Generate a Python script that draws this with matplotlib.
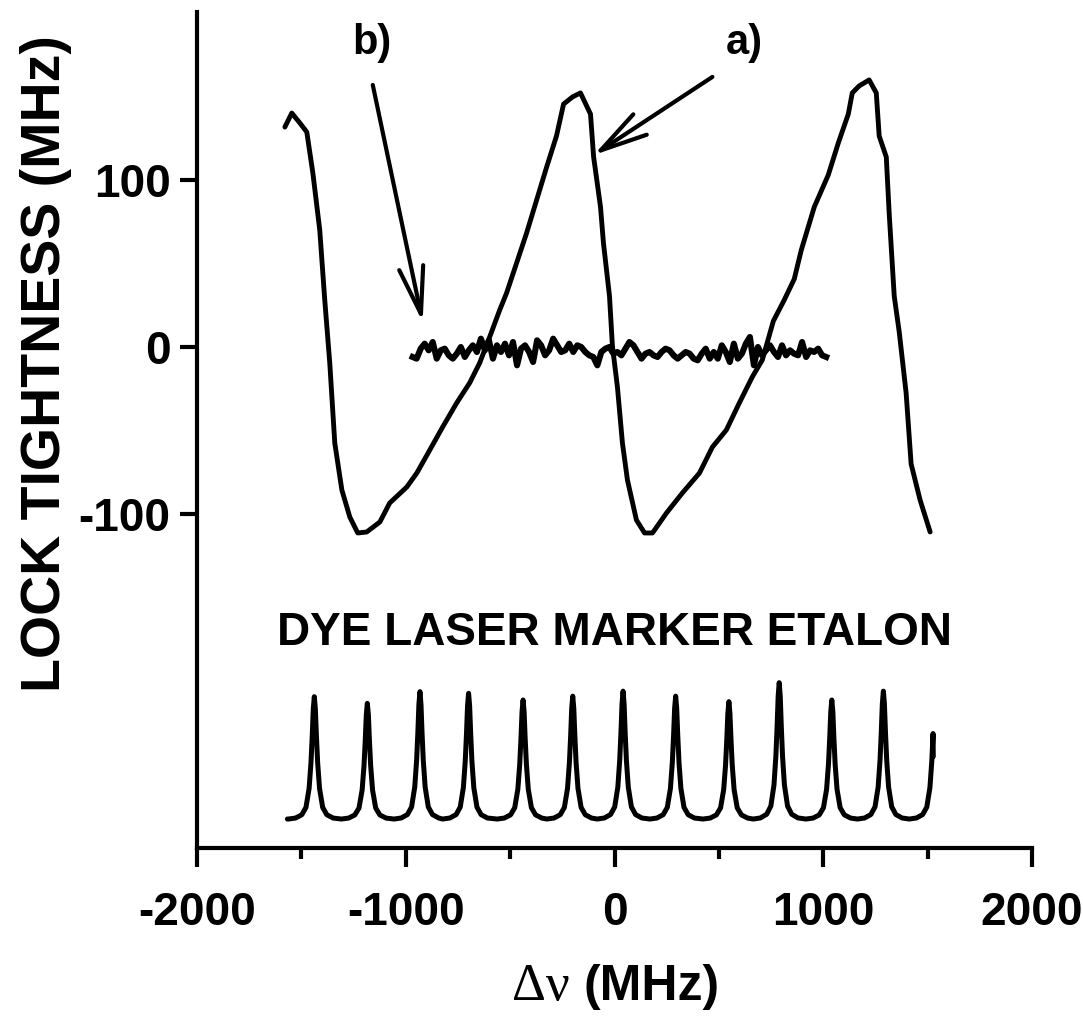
import numpy as np
import matplotlib
matplotlib.use("Agg")
import matplotlib.pyplot as plt
from matplotlib.ticker import MultipleLocator

# ---------------- data ----------------
# a) lock-tightness error signal (MHz vs MHz)
A_X = [-1579, -1546, -1507, -1474, -1445, -1412, -1388, -1364, -1340, -1306,
       -1268, -1230, -1187, -1124, -1077, -995, -947, -885, -823, -756,
       -694, -646, -598, -550, -517, -421, -325, -278, -244, -201,
       -163, -115, -100, -67, -53, -24, -10, 14, 38, 62,
       105, 144, 182, 249, 325, 407, 469, 536, 598, 660,
       708, 761, 813, 861, 895, 957, 1024, 1072, 1120, 1139,
       1172, 1220, 1254, 1268, 1302, 1316, 1340, 1364, 1397, 1421,
       1464, 1512]
A_Y = [132.1, 140.5, 134.5, 129.1, 104.5, 70.3, 28.2, -9.6, -57.7, -85.9,
       -102.1, -111.7, -111.1, -105.1, -93.7, -84.1, -75.7, -61.9, -48.0, -33.6,
       -21.6, -9.6, 6.0, 22.2, 32.4, 68.5, 108.1, 126.7, 145.9, 150.2,
       152.6, 139.9, 114.1, 84.1, 62.5, 30.6, 0.6, -24.0, -57.7, -79.9,
       -103.9, -111.7, -111.7, -99.7, -87.7, -75.7, -60.1, -49.8, -33.6, -18.0,
       -7.8, 15.6, 28.2, 40.8, 58.3, 84.1, 103.3, 122.5, 139.9, 152.6,
       156.8, 160.4, 152.6, 126.7, 114.1, 79.9, 30.6, 9.0, -27.6, -70.3,
       -91.9, -111.1]

# b) locked signal: noise samples, evenly spaced from B_START to B_END
B_START, B_END = -967, 1014
B_Y = [-6, -7, -1, 2, -2, 3, -7, -2, -1, -5, -7, -4, 0, -6, -2, 1, -3, 5, -2, 4,
       -7, 1, -3, 2, -5, 3, -11, -1, 1, -3, -9, 4, 1, -5, -2, 5, 1, -3, -2, 2,
       -3, 1, 0, -3, -5, -6, -11, -3, -1, 0, -4,
       -3, -5, -1, 3, 1, -3, -7, -4, -3, -5, -6, -3, -1, -2, -5, -7, -5, -3, -4, -7,
       -8, -4, -1, -7, -3, -7, 1, -3, -9, 2, -7, -4, 2, 6, -11, 0, -5, -2, 1, -3,
       -6, 1, -5, -2, -4, -5, 3, -6, -2, -3, -1, -5, -6]

# dye laser marker etalon: peak centres / peak tops (plotted in same axis units)
ETA_CENTERS = [-1438, -1184, -932, -699, -438, -200, 41, 293, 548, 789, 1041, 1288, 1536]
ETA_PEAKS = [-210, -214, -207, -208, -212, -209.7, -206.7, -209.7, -213, -201.6, -212, -206.7, -208]
ETA_BASE = -283.5
ETA_START, ETA_END = -1567, 1527
ETA_END_Y = -246
# line profile: offset (MHz) -> fraction of peak height above the valley
PROFILE_OFF = [-124, -90, -60, -40, -25, -16, -10, -5, 0, 5, 10, 16, 25, 40, 60, 90]
PROFILE_FRAC = [0.0, 0.008, 0.035, 0.095, 0.25, 0.46, 0.68, 0.90, 1.0, 0.90, 0.68, 0.46, 0.25, 0.095, 0.035, 0.008]

X_TICKS = [-2000, -1000, 0, 1000, 2000]
Y_TICKS = [-100, 0, 100]

# ---------------- figure ----------------
plt.rcParams['font.family'] = ['Liberation Sans', 'DejaVu Sans']
plt.rcParams['font.weight'] = 'bold'
plt.rcParams['axes.unicode_minus'] = False

fig = plt.figure(figsize=(10.83, 10.21), dpi=100)
ax = fig.add_axes([197/1083, 1 - 848/1021, (1032-197)/1083, (848-12)/1021])
ax.set_xlim(-2000, 2000)
ax.set_ylim(-300.9, 201.2)

ax.plot(A_X, A_Y, color='black', lw=3.5, solid_joinstyle='round', solid_capstyle='round')

bx = np.linspace(B_START, B_END, len(B_Y))
ax.plot(bx, B_Y, color='black', lw=4.4, solid_joinstyle='round')

ex, ey = [], []
for c, h in zip(ETA_CENTERS, ETA_PEAKS):
    for o, f in zip(PROFILE_OFF, PROFILE_FRAC):
        x = c + o
        if ETA_START <= x <= ETA_END:
            ex.append(x)
            ey.append(ETA_BASE + f * (h - ETA_BASE))
ex = [ETA_START] + ex + [ETA_END]
ey = [ETA_BASE] + ey + [ETA_END_Y]
ax.plot(ex, ey, color='black', lw=3.6, solid_joinstyle='round', solid_capstyle='round')

# spines / ticks
for s in ['top', 'right']:
    ax.spines[s].set_visible(False)
for s in ['left', 'bottom']:
    ax.spines[s].set_linewidth(3)
ax.set_xticks(X_TICKS)
ax.xaxis.set_minor_locator(MultipleLocator(500))
ax.set_yticks(Y_TICKS)
ax.tick_params(axis='x', which='major', direction='out', length=14, width=3, pad=17, labelsize=33)
ax.tick_params(axis='x', which='minor', direction='out', length=8, width=3)
ax.tick_params(axis='y', which='major', direction='out', length=12, width=3, pad=7, labelsize=33)
for t in ax.get_xticklabels() + ax.get_yticklabels():
    t.set_fontweight('bold')

ax.set_ylabel('LOCK TIGHTNESS (MHz)', fontsize=40, fontweight='bold')
ax.yaxis.set_label_coords(-0.150, 0.579)

# x label: serif Greek + bold sans units
fig.text(570/1083, 1 - 1000/1021, 'Δν', fontsize=38, family=['Liberation Serif', 'DejaVu Serif'],
         fontweight='normal', ha='right', va='baseline')
fig.text(584/1083, 1 - 1000/1021, '(MHz)', fontsize=36, fontweight='bold', ha='left', va='baseline')

ax.text(0, -179, 'DYE LASER MARKER ETALON', fontsize=33, fontweight='bold', ha='center', va='baseline')
ax.text(622, 176, 'a)', fontsize=30, fontweight='bold', ha='center', va='baseline')
ax.text(-1163, 176, 'b)', fontsize=30, fontweight='bold', ha='center', va='baseline')

arrow = dict(arrowstyle='->, head_length=0.85, head_width=0.22', lw=3, color='black',
             shrinkA=0, shrinkB=0, mutation_scale=40)
ax.annotate('', xy=(-100, 115.3), xytext=(469, 162.2), arrowprops=arrow)
ax.annotate('', xy=(-919, 15.0), xytext=(-1158, 157.4), arrowprops=arrow)

fig.savefig('out.png', dpi=100)
